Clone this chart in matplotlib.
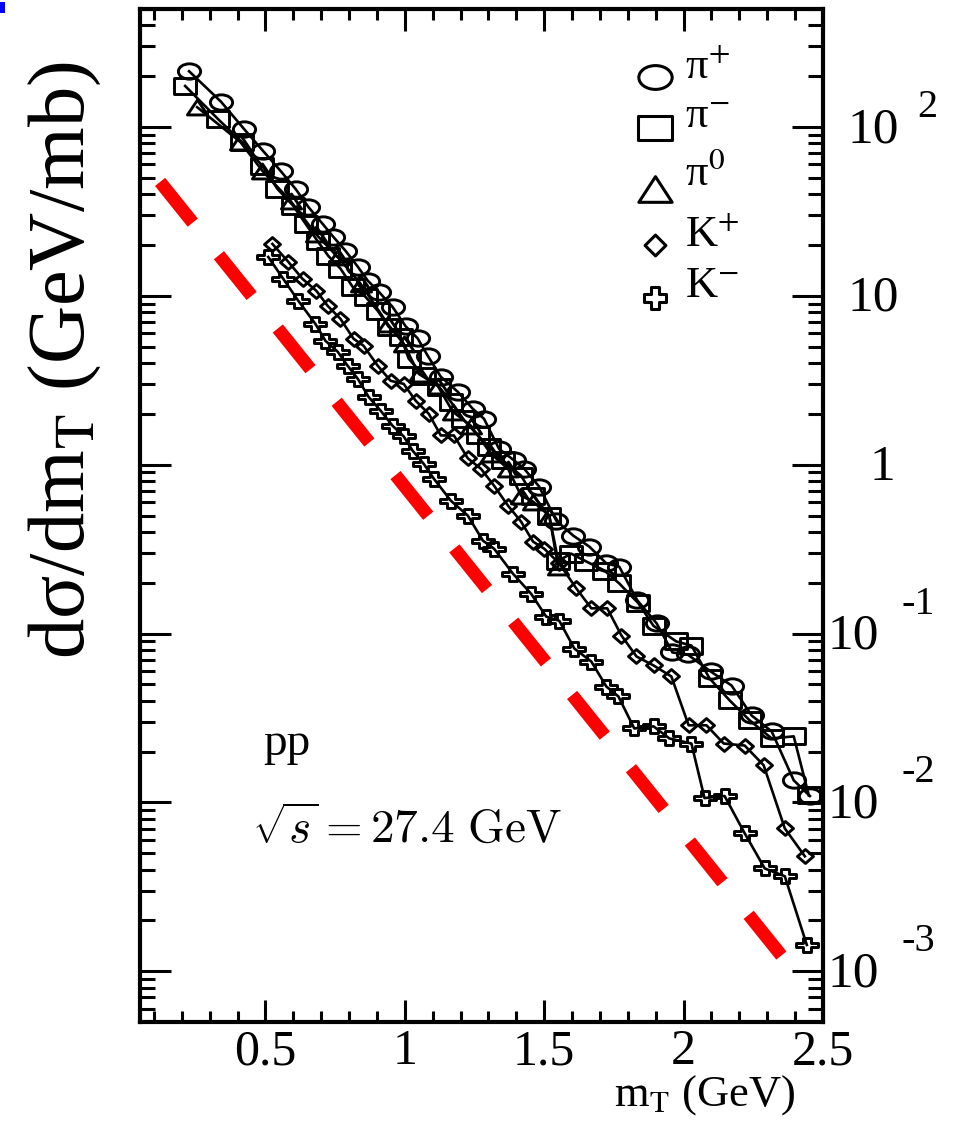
import numpy as np
import matplotlib
matplotlib.use('Agg')
import matplotlib.pyplot as plt
from matplotlib.path import Path
from matplotlib.transforms import offset_copy
from matplotlib.patches import Rectangle

plt.rcParams['font.family'] = ['Liberation Serif', 'DejaVu Serif']
plt.rcParams['mathtext.fontset'] = 'stix'

# ---------------- data ----------------
pip_x = [0.226, 0.341, 0.424, 0.492, 0.554, 0.608, 0.654, 0.705, 0.744, 0.787, 0.831, 0.867,
         0.906, 0.956, 1.003, 1.046, 1.082, 1.129, 1.190, 1.244, 1.284, 1.338, 1.392, 1.428,
         1.482, 1.543, 1.604, 1.662, 1.723, 1.769, 1.834, 1.903, 1.960, 2.014, 2.097, 2.172,
         2.244, 2.316, 2.395, 2.453]
pip_y = [214, 141, 97, 72, 55, 43, 33.6, 26.7, 22.3, 18.5, 14.9, 12.3,
         10.6, 8.6, 6.6, 5.6, 4.42, 3.32, 2.70, 2.14, 1.87, 1.24, 1.06, 0.946,
         0.741, 0.467, 0.380, 0.327, 0.260, 0.249, 0.157, 0.115, 0.0772, 0.0752, 0.0596, 0.0492,
         0.0327, 0.0263, 0.0135, 0.0109]

pim_x = [0.212, 0.331, 0.417, 0.489, 0.543, 0.600, 0.644, 0.687, 0.726, 0.769, 0.813, 0.859,
         0.903, 0.942, 0.985, 1.014, 1.068, 1.122, 1.165, 1.208, 1.262, 1.302, 1.352, 1.417,
         1.460, 1.518, 1.550, 1.597, 1.651, 1.716, 1.769, 1.838, 1.892, 1.974, 2.028, 2.093,
         2.165, 2.237, 2.316, 2.395, 2.449]
pim_y = [175, 111, 81, 58.7, 43, 34.1, 26.7, 21.1, 17.2, 14.5, 11.3, 9.86,
         8.15, 6.56, 5.72, 4.24, 3.36, 2.90, 2.36, 1.87, 1.49, 1.28, 1.06, 0.861,
         0.656, 0.499, 0.27, 0.297, 0.267, 0.236, 0.198, 0.151, 0.111, 0.0897, 0.0849, 0.0542,
         0.0402, 0.0306, 0.0239, 0.0246, 0.0110]

pi0_x = [0.255, 0.410, 0.489, 0.590, 0.680, 0.759, 0.841, 0.938, 0.996, 1.050, 1.118, 1.172,
         1.237, 1.309, 1.370, 1.417, 1.460, 1.518, 1.550]
pi0_y = [131, 81.5, 55, 36.5, 23.3, 17.0, 11.8, 6.83, 5.20, 3.45, 2.93, 2.06,
         1.70, 1.16, 0.946, 0.656, 0.604, 0.499, 0.249]

kp_x = [0.525, 0.582, 0.633, 0.683, 0.723, 0.769, 0.816, 0.852, 0.903, 0.949, 0.996, 1.039,
        1.086, 1.129, 1.176, 1.226, 1.273, 1.320, 1.370, 1.417, 1.460, 1.500, 1.554, 1.615,
        1.669, 1.726, 1.777, 1.831, 1.892, 1.956, 2.018, 2.082, 2.144, 2.219, 2.287, 2.363, 2.435]
kp_y = [20.3, 15.9, 12.6, 10.7, 8.73, 7.31, 5.57, 5.06, 3.85, 3.14, 3.01, 2.39,
        2.00, 1.49, 1.49, 1.09, 0.946, 0.751, 0.572, 0.460, 0.350, 0.318, 0.260, 0.185,
        0.141, 0.141, 0.0973, 0.0731, 0.0647, 0.0557, 0.0286, 0.0286, 0.0223, 0.0217, 0.0166,
        0.00701, 0.00479]

km_x = [0.510, 0.564, 0.618, 0.679, 0.715, 0.759, 0.795, 0.831, 0.870, 0.913, 0.956, 0.996,
        1.028, 1.068, 1.104, 1.165, 1.226, 1.280, 1.320, 1.388, 1.453, 1.507, 1.554, 1.608,
        1.669, 1.723, 1.766, 1.823, 1.892, 1.949, 2.028, 2.075, 2.147, 2.219, 2.291, 2.363, 2.442]
km_y = [17.0, 12.6, 9.34, 6.83, 5.42, 4.67, 3.85, 3.23, 2.52, 2.09, 1.70, 1.47,
        1.21, 1.01, 0.826, 0.612, 0.499, 0.355, 0.318, 0.226, 0.172, 0.126, 0.119, 0.0815,
        0.0682, 0.0485, 0.0424, 0.0274, 0.0282, 0.0239, 0.0223, 0.0106, 0.0109, 0.00656,
        0.00406, 0.00365, 0.00143]

ref_x = [0.122, 2.352]
ref_y = [47.3, 1.23e-3]

xtick_vals = [0.5, 1.0, 1.5, 2.0, 2.5]
xtick_labels = ['0.5', '1', '1.5', '2', '2.5']
ylab_vals = [100, 10, 1, 0.1, 0.01, 0.001]
ylab_main = ['10', '10', '1', '10', '10', '10']
ylab_exp = ['2', '', '', '-1', '-2', '-3']

legend_labels = [r'π$^{+}$', r'π$^{-}$', r'π$^{0}$', r'K$^{+}$', r'K$^{-}$']

# ---------------- markers ----------------
def ellipse(ax_ratio):
    c = Path.unit_circle()
    v = c.vertices * np.array([ax_ratio, 1.0])
    return Path(v, c.codes)

def rect(r):
    return Path([(-r, -1), (r, -1), (r, 1), (-r, 1), (-r, -1)],
                [Path.MOVETO, Path.LINETO, Path.LINETO, Path.LINETO, Path.CLOSEPOLY])

def tri(r):
    return Path([(-r, -1), (r, -1), (0, 1), (-r, -1)],
                [Path.MOVETO, Path.LINETO, Path.LINETO, Path.CLOSEPOLY])

def diamond(r):
    return Path([(-r, 0), (0, -1), (r, 0), (0, 1), (-r, 0)],
                [Path.MOVETO, Path.LINETO, Path.LINETO, Path.LINETO, Path.CLOSEPOLY])

def cross(a, t, s):
    v = [(-a, -t), (-s, -t), (-s, -1), (s, -1), (s, -t), (a, -t), (a, t), (s, t),
         (s, 1), (-s, 1), (-s, t), (-a, t), (-a, -t)]
    codes = [Path.MOVETO] + [Path.LINETO] * 11 + [Path.CLOSEPOLY]
    return Path(v, codes)

m_circ = ellipse(1.45)
m_sq = rect(1.45)
m_tri = tri(1.35)
m_dia = diamond(1.15)
m_cross = cross(1.45, 0.33, 0.5)

m_circ_l = ellipse(1.4)
m_sq_l = rect(1.4)
m_tri_l = tri(1.3)
m_dia_l = diamond(1.0)
m_cross_l = cross(1.0, 0.33, 0.33)

# ---------------- figure ----------------
fig = plt.figure(figsize=(9.56, 11.24), dpi=100)
ax = fig.add_axes([140/956, 1 - 1022/1124, 683/956, 1013/1124])
ax.set_yscale('log')
ax.set_xlim(0.05, 2.5)
ax.set_ylim(10**-3.301, 10**2.699)

ax.plot(ref_x, ref_y, color='#ff0000', lw=9.4, dashes=(4.0, 3.2), dash_capstyle='butt', zorder=2)

mec = 'black'
lw_m = 2.1
series = [
    (pip_x, pip_y, m_circ, 16),
    (pim_x, pim_y, m_sq, 16.5),
    (pi0_x, pi0_y, m_tri, 14.5),
    (kp_x, kp_y, m_dia, 11.5),
    (km_x, km_y, m_cross, 15.5),
]
for xs, ys, mk, ms in series:
    ax.plot(xs, ys, color='black', lw=1.9, zorder=3)
    ax.plot(xs, ys, ls='none', marker=mk, ms=ms, mfc='none', mec=mec, mew=lw_m, zorder=4)

# ticks
ax.set_xticks(xtick_vals)
ax.set_xticklabels(xtick_labels)
ax.set_xticks(np.arange(0.1, 2.5, 0.1), minor=True)
ax.tick_params(axis='x', which='major', direction='in', length=16, width=2.2, top=True,
               labelsize=36, pad=5)
ax.tick_params(axis='x', which='minor', direction='in', length=8, width=2.2, top=True)
ax.tick_params(axis='y', which='major', direction='in', length=22, width=2.2, right=True,
               left=True, labelleft=False, labelright=False)
ax.tick_params(axis='y', which='minor', direction='in', length=11, width=2.2, right=True,
               left=True, labelleft=False, labelright=False)
ax.yaxis.set_major_locator(matplotlib.ticker.LogLocator(base=10, numticks=20))
ax.yaxis.set_minor_locator(matplotlib.ticker.LogLocator(base=10, subs=np.arange(2, 10), numticks=20))
for s in ax.spines.values():
    s.set_linewidth(3)

# right-side labels
ytr = ax.get_yaxis_transform()
for v, mtxt, etxt in zip(ylab_vals, ylab_main, ylab_exp):
    if mtxt == '1':
        xm = 1.068
    elif v >= 10:
        xm = 1.0366
    else:
        xm = 1.0073
    ax.text(xm, v, mtxt, transform=offset_copy(ytr, fig=fig, x=0, y=-15, units='dots'),
            ha='left', va='baseline', fontsize=37, clip_on=False)
    if etxt:
        if etxt == '2':
            xe, dy = 1.1376, 10
        else:
            xe, dy = 1.115, 20
        ax.text(xe, v, etxt, transform=offset_copy(ytr, fig=fig, x=0, y=dy, units='dots'),
                ha='left', va='baseline', fontsize=29, clip_on=False)

# legend
leg_markers = [m_circ_l, m_sq_l, m_tri_l, m_dia_l, m_cross_l]
leg_sizes = [24, 24, 24, 15, 16]
leg_my = [0.9329, 0.8825, 0.8223, 0.767, 0.7147]
leg_ty = [0.9309, 0.8825, 0.8263, 0.765, 0.7157]
for mk, ms, my, ty, lab in zip(leg_markers, leg_sizes, leg_my, leg_ty, legend_labels):
    ax.plot([0.754], [my], transform=ax.transAxes, ls='none', marker=mk, ms=ms,
            mfc='none', mec='black', mew=2.2, clip_on=False, zorder=5)
    ax.text(0.798, ty, lab, transform=ax.transAxes, fontsize=32, ha='left', va='baseline')

# annotations
ax.text(0.180, 0.2636, 'pp', transform=ax.transAxes, fontsize=34, ha='left', va='baseline')
ax.text(0.164, 0.1767, r'$\sqrt{s}=\mathbf{27.4}\ \mathrm{GeV}$', transform=ax.transAxes,
        fontsize=34, ha='left', va='baseline', math_fontfamily='cm')

fig.text(65/956, 1 - 360/1124, 'dσ/dm$_{\\mathrm{T}}$ (GeV/mb)', rotation=90,
         ha='center', va='center', fontsize=58)
fig.text(705/956, 1 - 1106/1124, r'm$_{\mathrm{T}}$ (GeV)', ha='center', va='baseline', fontsize=32)

fig.add_artist(Rectangle((0, 1 - 13/1124), 5/956, 11/1124, transform=fig.transFigure,
                         color='#0000ff', lw=0))

fig.savefig('out.png', dpi=100)
